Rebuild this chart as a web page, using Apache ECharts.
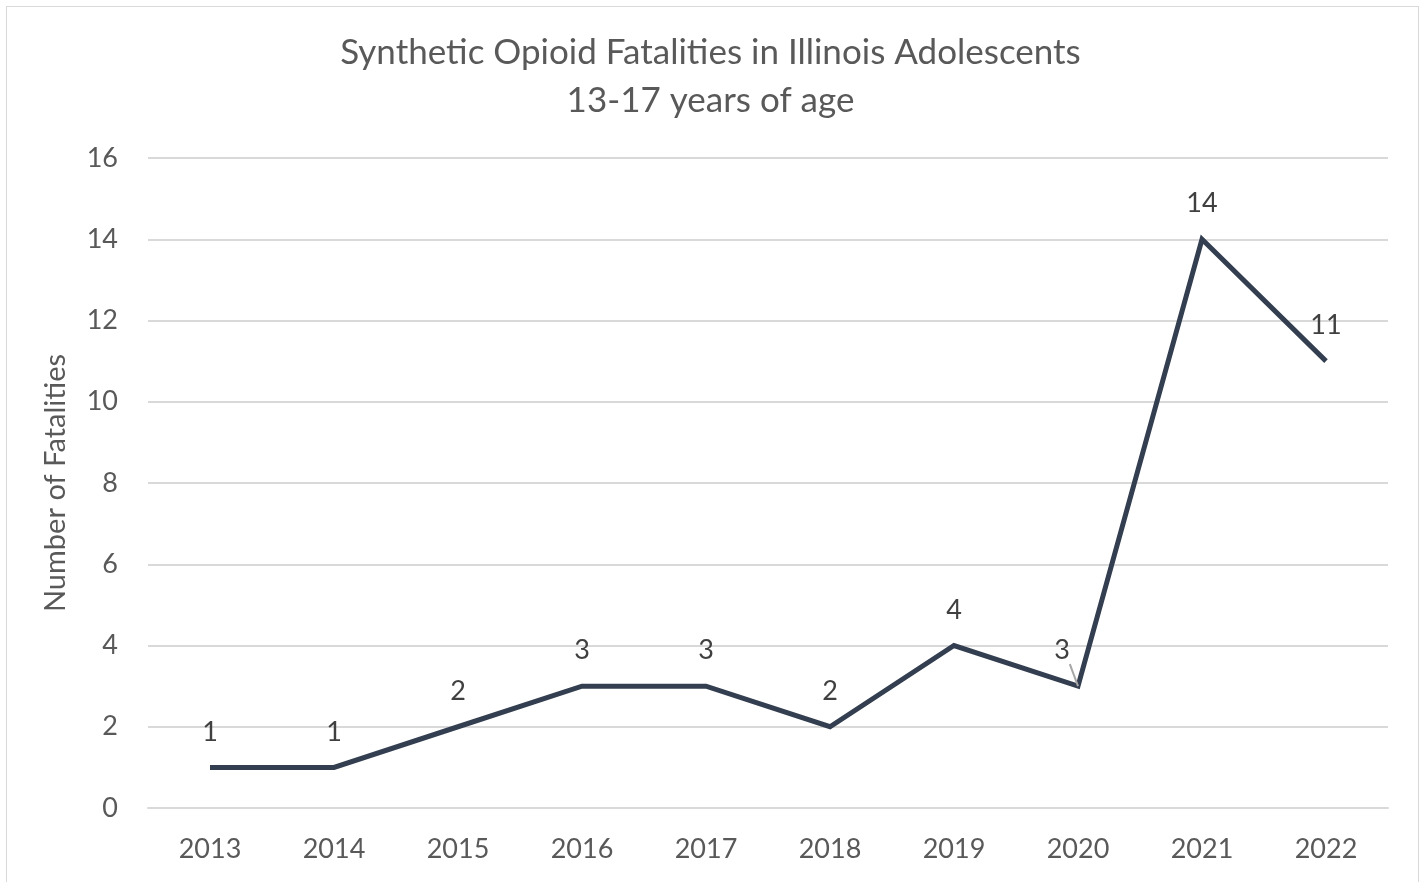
<!DOCTYPE html>
<html>
<head>
<meta charset="utf-8">
<script src="https://cdn.jsdelivr.net/npm/echarts@6/dist/echarts.min.js"></script>
<style>
    html, body { margin: 0; padding: 0; background: #fff; overflow: hidden; }
    #frame { position: absolute; left: 6px; top: 6px; width: 1411px; height: 900px; border: 1px solid #d9d9d9; }
    #chart { position: absolute; left: 0; top: 0; width: 1421px; height: 882px; }
</style>
</head>
<body>
<div id="frame"></div>
<div id="chart"></div>
<script>
let years = ['2013', '2014', '2015', '2016', '2017', '2018', '2019', '2020', '2021', '2022'];
let fatalities = [1, 1, 2, 3, 3, 2, 4, 3, 14, 11];
let yTicks = [0, 2, 4, 6, 8, 10, 12, 14, 16];

let font = 'Lato, "Open Sans", sans-serif';

let chart = echarts.init(document.getElementById('chart'));

let data = fatalities.map((v, i) => {
    if (years[i] === '2020') {
        // label was dragged left in the original, with a leader line
        return {
            value: v,
            label: { offset: [-16, 0] },
            labelLine: { show: true, lineStyle: { color: '#a6a6a6', width: 2 } }
        };
    }
    return v;
});

let option = {
    animation: false,
    title: {
        text: 'Synthetic Opioid Fatalities in Illinois Adolescents\n13-17 years of age',
        left: 'center',
        top: 24,
        textStyle: {
            fontFamily: font,
            fontSize: 35,
            fontWeight: 'normal',
            color: '#595959',
            lineHeight: 48
        }
    },
    grid: {
        left: 148,
        right: 33,
        top: 158,
        bottom: 74
    },
    xAxis: {
        type: 'category',
        data: years,
        boundaryGap: true,
        axisLine: { lineStyle: { color: '#d9d9d9', width: 2 } },
        axisTick: { show: false },
        axisLabel: {
            fontFamily: font,
            fontSize: 27,
            color: '#595959',
            margin: 28
        }
    },
    yAxis: {
        type: 'value',
        min: yTicks[0],
        max: yTicks[yTicks.length - 1],
        interval: 2,
        name: 'Number of Fatalities',
        nameLocation: 'middle',
        nameGap: 78,
        nameTextStyle: {
            fontFamily: font,
            fontSize: 29,
            color: '#595959'
        },
        axisLine: { show: false },
        axisTick: { show: false },
        axisLabel: {
            fontFamily: font,
            fontSize: 27,
            color: '#595959',
            margin: 30
        },
        splitLine: { lineStyle: { color: '#d9d9d9', width: 2 } }
    },
    series: [
        {
            type: 'line',
            data: data,
            symbol: 'circle',
            symbolSize: 0,
            showSymbol: true,
            lineStyle: { color: '#333f50', width: 5, join: 'miter' },
            itemStyle: { color: '#333f50' },
            label: {
                show: true,
                position: 'top',
                distance: 22,
                fontFamily: font,
                fontSize: 27,
                color: '#404040'
            }
        }
    ]
};

chart.setOption(option);
</script>
</body>
</html>
